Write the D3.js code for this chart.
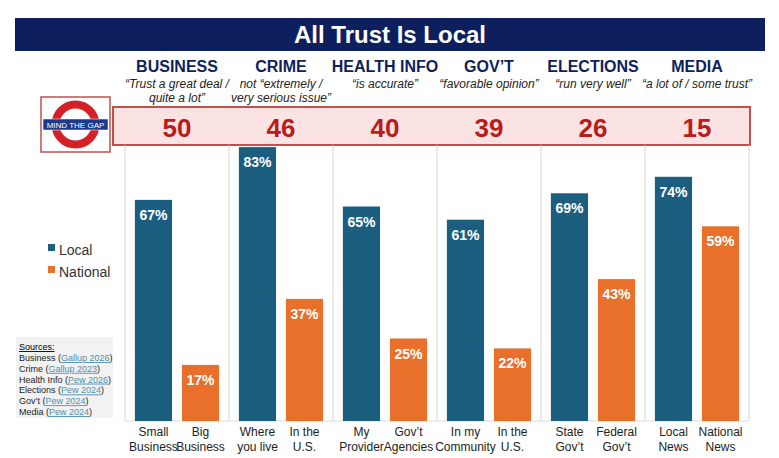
<!DOCTYPE html><html><head><meta charset="utf-8"><script src="https://cdn.jsdelivr.net/npm/d3@7"></script>
<style>body{margin:0;background:#fff;font-family:Arial,"Liberation Sans",sans-serif}.nar{font-family:"Liberation Sans Narrow","Arial Narrow",Arial,sans-serif}</style></head><body><svg width="779" height="458"></svg>
<script>
const categories=["BUSINESS","CRIME","HEALTH INFO","GOV’T","ELECTIONS","MEDIA"];
const subtitles=[["“Trust a great deal /","quite a lot”"],["not “extremely /","very serious issue”"],["“is accurate”"],["“favorable opinion”"],["“run very well”"],["“a lot of / some trust”"]];
const gaps=[50,46,40,39,26,15];
const localVals=[67,83,65,61,69,74];
const nationalVals=[17,37,25,22,43,59];
const localLabels=[["Small","Business"],["Where","you live"],["My","Provider"],["In my","Community"],["State","Gov’t"],["Local","News"]];
const nationalLabels=[["Big","Business"],["In the","U.S."],["Gov’t","Agencies"],["In the","U.S."],["Federal","Gov’t"],["National","News"]];
const sources=[["Business (","Gallup 2026",")"],["Crime (","Gallup 2023",")"],["Health Info (","Pew 2026",")"],["Elections (","Pew 2024",")"],["Gov’t (","Pew 2024",")"],["Media (","Pew 2024",")"]];
const svg=d3.select("svg");
const NAVY="#0d1f5c",BLUE="#1b5e80",ORANGE="#e8702a",RED="#b81c1c";
svg.append("rect").attr("x",15).attr("y",18).attr("width",750).attr("height",33).attr("fill",NAVY);
svg.append("text").attr("x",390).attr("y",43).attr("text-anchor","middle").attr("fill","#fff").attr("font-size",24).attr("font-weight","bold").text("All Trust Is Local");
const x=d3.scaleBand().domain(categories).range([125,749]);
const y=d3.scaleLinear().domain([0,100]).range([421,91]);
const sub=d3.scaleBand().domain(["L","N"]).range([0,x.bandwidth()]).paddingInner(0.21).paddingOuter(0.21);
svg.append("rect").attr("x",113).attr("y",107).attr("width",637).attr("height",38).attr("fill","#fbe3e3").attr("stroke","#c0504d").attr("stroke-width",2);
categories.forEach((c,i)=>{
  [x(c)].concat(i==categories.length-1?[x(c)+x.bandwidth()]:[]).forEach(xx=>
  svg.append("line").attr("x1",xx).attr("x2",xx).attr("y1",145).attr("y2",421).attr("stroke","#d9d9d9"));
});
svg.append("line").attr("x1",125).attr("x2",749).attr("y1",421).attr("y2",421).attr("stroke","#d9d9d9");
categories.forEach((c,i)=>{
  const cx=x(c)+x.bandwidth()/2;
  svg.append("text").attr("x",cx).attr("y",72).attr("text-anchor","middle").attr("fill",NAVY).attr("font-size",16).attr("font-weight","bold").text(c);
  subtitles[i].forEach((s,j)=>svg.append("text").attr("class","nar").attr("x",cx).attr("y",88+j*14).attr("text-anchor","middle").attr("font-size",12).attr("font-style","italic").attr("fill","#222").text(s));
  svg.append("text").attr("x",cx).attr("y",137).attr("text-anchor","middle").attr("fill",RED).attr("font-size",26).attr("font-weight","bold").text(gaps[i]);
  [["L",localVals[i],BLUE,localLabels[i]],["N",nationalVals[i],ORANGE,nationalLabels[i]]].forEach(([k,v,col,lab])=>{
    const bx=x(c)+sub(k),bw=sub.bandwidth();
    svg.append("rect").attr("x",bx).attr("y",y(v)).attr("width",bw).attr("height",y(0)-y(v)).attr("fill",col);
    svg.append("text").attr("x",bx+bw/2).attr("y",y(v)+20).attr("text-anchor","middle").attr("fill","#fff").attr("font-size",14).attr("font-weight","bold").text(v+"%");
    lab.forEach((t,j)=>svg.append("text").attr("class","nar").attr("x",bx+bw/2).attr("y",436+j*15).attr("text-anchor","middle").attr("font-size",12).attr("fill","#222").text(t));
  });
});
svg.append("rect").attr("x",41).attr("y",97).attr("width",69).attr("height",55).attr("fill","#fff").attr("stroke","#c0504d").attr("stroke-width",1.5);
svg.append("circle").attr("cx",75.5).attr("cy",124.5).attr("r",20).attr("fill","none").attr("stroke","#d42027").attr("stroke-width",8);
svg.append("rect").attr("x",43).attr("y",119).attr("width",65).attr("height",11).attr("fill","#1c3a8a").attr("stroke","#fff").attr("stroke-width",0.5);
svg.append("text").attr("x",75.5).attr("y",128).attr("text-anchor","middle").attr("fill","#fff").attr("font-size",8).text("MIND THE GAP");
[["Local",BLUE,250],["National",ORANGE,272]].forEach(([t,c,yy])=>{
  svg.append("rect").attr("x",48).attr("y",yy-6).attr("width",7).attr("height",7).attr("fill",c);
  svg.append("text").attr("x",59).attr("y",yy+5).attr("font-size",14).attr("fill","#333").text(t);
});
svg.append("rect").attr("x",16).attr("y",337).attr("width",97).attr("height",81).attr("fill","#f2f2f2");
svg.append("text").attr("class","nar").attr("x",19).attr("y",350).attr("font-size",9).attr("text-decoration","underline").text("Sources:");
sources.forEach((s,i)=>{
  const t=svg.append("text").attr("class","nar").attr("x",19).attr("y",361+i*10.8).attr("font-size",9).attr("fill","#222");
  t.append("tspan").text(s[0]);t.append("tspan").attr("fill","#4f8fb0").attr("text-decoration","underline").text(s[1]);t.append("tspan").text(s[2]);
});
</script></body></html>
